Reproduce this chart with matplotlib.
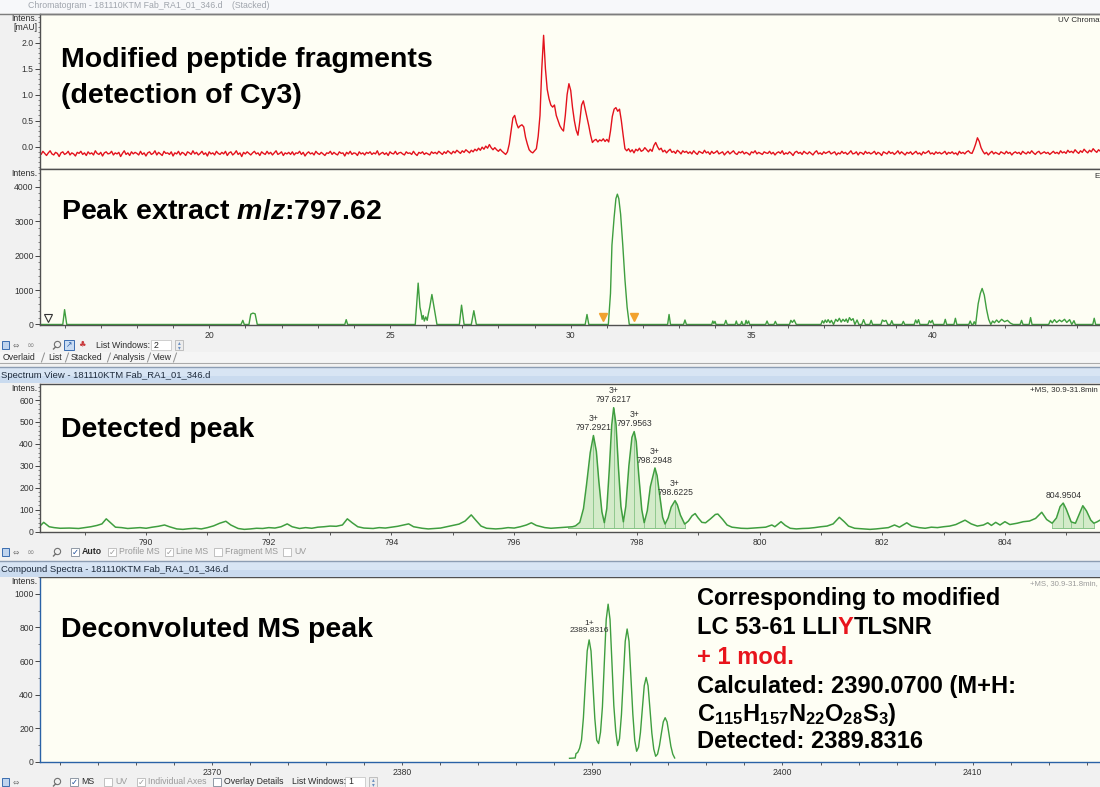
"""
LC-MS summary for the Cy3-modified LC 53-61 peptide:
UV trace, extracted ion chromatogram, isotope cluster and deconvoluted mass,
laid out as four stacked viewer panels.
"""

import numpy as np
import matplotlib
matplotlib.use("Agg")
import matplotlib.pyplot as plt
from matplotlib.lines import Line2D
from matplotlib.patches import Rectangle
from matplotlib.ticker import FixedLocator, MultipleLocator, FormatStrFormatter


# ── canvas (pixels) ──
W, H = 1100, 787

# ── colours ──
COLOR_UV = "#E3121C"
COLOR_MS = "#3F9E3F"
COLOR_FILL = "#D3EBC9"
COLOR_SPLIT = "#86C386"
COLOR_PLOT_BG = "#FEFEF4"
COLOR_WINDOW = "#F1F1F1"
COLOR_TITLEBAR = "#CADBEF"
COLOR_FRAME = "#505050"
COLOR_ACTIVE = "#2A62A6"
COLOR_MARK = "#F2A22E"
COLOR_UI_TEXT = "#2B2B2B"
COLOR_UI_GREY = "#9A9A9A"

LABEL_FONT = "Liberation Sans"
UI_FONT = "Liberation Sans"

plt.rcParams["font.family"] = [UI_FONT, "DejaVu Sans"]
plt.rcParams["mathtext.fontset"] = "custom"
plt.rcParams["mathtext.rm"] = "Liberation Sans:bold"
plt.rcParams["mathtext.it"] = "Liberation Sans:italic:bold"
plt.rcParams["mathtext.bf"] = "Liberation Sans:bold"


# ── UV chromatogram (Cy3 channel), every 0.05 min from 15.30 min, in 0.01 mAU ──
UV_START_MIN = 15.30
UV_STEP_MIN = 0.05
UV_CENTI_MAU = [
    -11, -15, -9, -13, -17, -12, -8, -14, -16, -11, -13, -19, -12, -10, -15, -13, -9, -16, -12, -14,
    -18, -11, -13, -9, -15, -12, -17, -10, -14, -12, -16, -8, -13, -15, -11, -18, -12, -10, -14, -13,
    -9, -16, -12, -14, -11, -19, -13, -8, -15, -12, -17, -10, -14, -11, -13, -16, -9, -15, -12, -18,
    -12, -10, -15, -13, -8, -16, -11, -14, -17, -9, -13, -12, -15, -10, -18, -12, -14, -9, -16, -11,
    -13, -17, -10, -12, -15, -8, -14, -11, -16, -13, -9, -15, -12, -18, -10, -14, -12, -16, -9, -13,
    -15, -11, -14, -9, -17, -12, -10, -16, -13, -8, -15, -12, -19, -11, -14, -10, -13, -16, -12, -9,
    -14, -12, -17, -10, -13, -15, -9, -14, -11, -16, -12, -8, -15, -13, -10, -17, -12, -14, -11, -15,
    -10, -16, -12, -13, -9, -15, -11, -18, -13, -10, -14, -12, -16, -9, -13, -15, -11, -14, -17, -12,
    -13, -9, -15, -11, -14, -16, -10, -13, -12, -18, -11, -14, -9, -15, -12, -13, -17, -10, -14, -12,
    -16, -11, -13, -10, -15, -12, -14, -8, -16, -13, -11, -15, -12, -17, -10, -13, -14, -9, -15, -12,
    -11, -14, -16, -10, -13, -12, -15, -9, -14, -17, -11, -13, -10, -15, -12, -14, -16, -10, -13, -11,
    -14, -9, -12, -15, -10, -13, -8, -11, -14, -9, -12, -7, -10, -13, -8, -11, -6, -9, -12, -7,
    -10, -5, -8, -3, -7, -1, -5, 1, -3, 4, -2, -6, -2, -6, -9, -5, -9, -12, -15, -10,
    5, 30, 55, 60, 45, 36, 40, 42, 38, 18, 5, -6, -10, -12, -8, -4, 20, 60, 150, 214,
    150, 110, 92, 80, 76, 80, 60, 50, 40, 34, 30, 60, 100, 121, 108, 75, 50, 32, 22, 48,
    80, 88, 72, 55, 40, 22, 8, 12, 14, 9, 13, 11, 15, 10, 14, 9, 30, 58, 72, 75,
    68, 72, 50, 22, -4, -8, -4, -10, -6, -12, -5, -8, -3, -9, -7, -2, -6, -10, -5, -9,
    2, 8, 0, -6, -3, -10, -7, -12, -8, -5, -11, -9, -13, -7, -10, -14, -8, -11, -9, -13,
    -10, -14, -8, -12, -15, -9, -11, -13, -7, -12, -10, -15, -9, -13, -11, -8, -14, -12, -10, -16,
    -12, -9, -14, -11, -8, -13, -15, -10, -12, -9, -14, -11, -13, -16, -10, -12, -8, -14, -11, -13,
    -15, -10, -12, -13, -9, -14, -11, -16, -12, -10, -13, -8, -15, -12, -14, -10, -13, -17, -11, -9,
    -13, -11, -15, -9, -12, -14, -10, -13, -16, -11, -8, -14, -12, -15, -10, -13, -11, -9, -14, -12,
    -10, -16, -12, -14, -9, -13, -11, -15, -12, -8, -14, -13, -10, -16, -11, -12, -15, -9, -13, -11,
    -14, -12, -9, -15, -11, -13, -17, -10, -12, -14, -9, -13, -11, -15, -12, -8, -14, -10, -13, -16,
    -11, -13, -10, -15, -12, -9, -14, -12, -16, -10, -13, -11, -8, -14, -12, -15, -10, -13, -11, -14,
    -12, -9, -15, -11, -13, -10, -14, -12, -16, -9, -13, -11, -14, -10, -8, -12, -13, -5, 5, 17,
    10, -2, -9, -14, -11, -16, -12, -9, -14, -11, -13, -15, -10, -12, -14, -9, -13, -11, -16, -12,
    -10, -13, -11, -15, -9, -12, -14, -10, -13, -8, -12, -15, -11, -9, -14, -12, -10, -13, -11, -15,
    -12, -9, -13, -11, -14, -8, -12, -10, -13, -7, -11, -9, -12, -6, -10, -13, -8, -11, -5, -9,
    -12, -7, -10, -4, -8, -11, -6, -9, -5, -8,
]

# ── EIC m/z 797.62: (retention time [min], intensity) ──
EIC_POINTS = [
    (15.30, 0), (15.95, 0), (16.00, 430), (16.06, 0),
    (20.88, 0), (20.93, 120), (20.97, 0), (21.10, 0), (21.15, 300), (21.21, 330),
    (21.27, 310), (21.33, 0),
    (23.75, 0), (23.79, 140), (23.83, 0),
    (25.70, 0), (25.78, 1200), (25.83, 500), (25.86, 350), (25.89, 150), (25.92, 260),
    (25.95, 100), (25.99, 220), (26.03, 120), (26.06, 300), (26.10, 500), (26.16, 870),
    (26.22, 500), (26.30, 0),
    (26.92, 0), (26.98, 560), (27.05, 0), (27.25, 0), (27.32, 400), (27.39, 0),
    (30.40, 0), (30.45, 290), (30.50, 0),
    (31.04, 0), (31.10, 900), (31.14, 2300), (31.20, 3100), (31.25, 3650), (31.29, 3780),
    (31.33, 3650), (31.38, 3200), (31.44, 2300), (31.50, 1300), (31.56, 500), (31.62, 0),
    (32.68, 0), (32.72, 290), (32.76, 0),
    (33.12, 0), (33.16, 130), (33.20, 0),
    (33.90, 0), (33.93, 100), (33.96, 30), (33.99, 90), (34.02, 0),
    (34.25, 0), (34.29, 120), (34.33, 0),
    (34.55, 0), (34.58, 100), (34.61, 0), (34.70, 0), (34.73, 90), (34.76, 0),
    (34.82, 0), (34.85, 120), (34.88, 20), (34.92, 100), (34.95, 0),
    (35.39, 0), (35.43, 100), (35.47, 0),
    (35.62, 0), (35.66, 90), (35.70, 0),
    (36.05, 0), (36.09, 120), (36.13, 60), (36.18, 130), (36.24, 0),
    (36.92, 0), (36.96, 110), (37.00, 40), (37.04, 130), (37.08, 60), (37.12, 140),
    (37.17, 50), (37.21, 120), (37.27, 0), (37.33, 150), (37.38, 90), (37.43, 180),
    (37.48, 70), (37.53, 150), (37.58, 90), (37.62, 160), (37.66, 60), (37.71, 200),
    (37.76, 120), (37.81, 170), (37.86, 0), (37.92, 130), (37.97, 0), (38.05, 0),
    (38.10, 140), (38.15, 0), (38.27, 0), (38.31, 120), (38.35, 0),
    (38.58, 0), (38.62, 130), (38.67, 90), (38.72, 120), (38.77, 0),
    (38.84, 0), (38.88, 110), (38.92, 0),
    (39.16, 0), (39.20, 90), (39.24, 0),
    (39.50, 0), (39.54, 130), (39.58, 40), (39.62, 140), (39.66, 0),
    (39.88, 0), (39.92, 110), (39.96, 50), (40.00, 120), (40.04, 0),
    (40.32, 0), (40.36, 150), (40.40, 0),
    (40.60, 0), (40.64, 180), (40.68, 0),
    (41.01, 0), (41.05, 100), (41.09, 0), (41.13, 0), (41.16, 80), (41.20, 0),
    (41.27, 600), (41.33, 900), (41.38, 1045), (41.44, 850), (41.50, 450), (41.56, 150),
    (41.62, 0), (41.67, 100), (41.72, 50), (41.78, 130), (41.84, 60), (41.92, 150),
    (42.00, 80), (42.08, 120), (42.16, 40), (42.24, 0),
    (42.43, 0), (42.47, 120), (42.51, 0),
    (42.68, 0), (42.72, 200), (42.76, 0),
    (43.22, 0), (43.27, 120), (43.32, 50), (43.38, 140), (43.44, 60), (43.52, 130),
    (43.58, 80), (43.66, 150), (43.72, 60), (43.80, 140), (43.86, 0), (43.92, 110),
    (43.96, 0),
    (44.44, 0), (44.48, 180), (44.52, 0), (44.70, 0),
]
EIC_WINDOW_MIN = [30.9, 31.75]      # averaged spectrum range
EIC_WINDOW_MARK = 210
EIC_START_MARK = (15.55, 190)

# ── averaged MS spectrum 30.9-31.8 min: (m/z, intensity) ──
MS_POINTS = [
    (788.27, 25), (788.33, 42), (788.42, 22), (788.50, 18), (788.60, 15), (788.75, 16),
    (788.90, 14), (789.00, 18), (789.10, 22), (789.20, 28), (789.28, 35), (789.35, 58),
    (789.42, 40), (789.50, 20), (789.60, 18), (789.70, 14), (789.80, 16), (789.90, 18),
    (790.00, 15), (790.10, 20), (790.20, 24), (790.30, 30), (790.38, 22), (790.50, 12),
    (790.60, 10), (790.70, 13), (790.80, 15), (790.90, 12), (791.00, 18), (791.10, 26),
    (791.20, 38), (791.30, 47), (791.38, 30), (791.50, 14), (791.60, 10), (791.70, 12),
    (791.80, 15), (791.90, 14), (792.00, 18), (792.10, 16), (792.20, 22), (792.30, 35),
    (792.38, 22), (792.50, 14), (792.60, 18), (792.70, 15), (792.80, 20), (792.90, 22),
    (793.00, 25), (793.10, 24), (793.20, 30), (793.28, 58), (793.36, 40), (793.45, 22),
    (793.55, 16), (793.70, 14), (793.80, 18), (793.90, 16), (794.00, 20), (794.10, 24),
    (794.20, 30), (794.28, 35), (794.36, 22), (794.50, 15), (794.60, 12), (794.70, 14),
    (794.80, 16), (794.90, 22), (795.00, 28), (795.10, 34), (795.20, 48), (795.30, 76),
    (795.38, 50), (795.46, 25), (795.55, 15), (795.70, 12), (795.80, 14), (795.90, 18),
    (796.00, 16), (796.10, 22), (796.20, 30), (796.28, 40), (796.36, 28), (796.50, 18),
    (796.60, 15), (796.70, 17), (796.80, 19), (796.87, 20), (796.95, 22), (797.00, 26),
    (797.07, 42), (797.13, 105), (797.18, 215), (797.24, 360), (797.2921, 438),
    (797.34, 365), (797.38, 230), (797.43, 90), (797.47, 40), (797.51, 105), (797.55, 280),
    (797.59, 485), (797.6217, 565), (797.66, 490), (797.70, 290), (797.74, 115),
    (797.78, 44), (797.82, 115), (797.87, 300), (797.92, 430), (797.9563, 456),
    (797.99, 410), (798.03, 260), (798.08, 100), (798.12, 40), (798.17, 95), (798.22, 205),
    (798.2948, 290), (798.33, 255), (798.38, 150), (798.42, 65), (798.46, 34),
    (798.51, 62), (798.56, 112), (798.6225, 141), (798.66, 122), (798.71, 75),
    (798.78, 34), (798.84, 48), (798.90, 72), (798.95, 82), (799.00, 62), (799.06, 42),
    (799.12, 40), (799.20, 58), (799.28, 78), (799.32, 80), (799.40, 55), (799.47, 30),
    (799.55, 20), (799.70, 15), (799.80, 14), (799.90, 16), (800.00, 18), (800.10, 20),
    (800.20, 30), (800.25, 22), (800.35, 45), (800.42, 28), (800.50, 15), (800.60, 12),
    (800.70, 14), (800.80, 15), (800.90, 18), (801.00, 22), (801.10, 25), (801.20, 35),
    (801.30, 65), (801.38, 45), (801.45, 25), (801.55, 15), (801.70, 12), (801.80, 10),
    (801.90, 12), (802.00, 15), (802.10, 18), (802.20, 30), (802.28, 20), (802.40, 40),
    (802.48, 25), (802.60, 18), (802.70, 15), (802.80, 20), (802.90, 18), (803.00, 22),
    (803.10, 25), (803.20, 32), (803.35, 52), (803.45, 35), (803.55, 25), (803.65, 30),
    (803.72, 40), (803.78, 28), (803.85, 42), (803.92, 30), (804.00, 45), (804.08, 32),
    (804.20, 38), (804.30, 45), (804.40, 48), (804.50, 60), (804.60, 88), (804.68, 55),
    (804.77, 38), (804.84, 62), (804.90, 114), (804.9504, 130), (805.00, 102),
    (805.08, 44), (805.15, 38), (805.21, 78), (805.27, 118), (805.33, 94), (805.40, 52),
    (805.45, 38), (805.50, 44), (805.55, 52),
]
PEAK_MZ = [797.2921, 797.6217, 797.9563, 798.2948, 798.6225, 804.9504]
PEAK_INTENS = [438, 565, 456, 290, 141, 130]
PEAK_CHARGE = ["3+", "3+", "3+", "3+", "3+", ""]
MS_FILL_RANGES = [(796.87, 798.78), (804.77, 805.45)]
MS_SPLITS = [796.87, 797.47, 797.78, 798.12, 798.46, 798.78, 804.77, 805.08, 805.27, 805.45]
MS_FILL_BASE = 16

# ── deconvoluted compound spectrum: (mass, intensity) ──
DECONV_POINTS = [
    (2388.80, 20), (2389.10, 22), (2389.14, 48), (2389.23, 55), (2389.33, 80),
    (2389.43, 128), (2389.53, 261), (2389.63, 463), (2389.73, 660), (2389.8316, 726),
    (2389.93, 660), (2390.03, 460), (2390.13, 258), (2390.23, 128), (2390.33, 108),
    (2390.43, 175), (2390.53, 326), (2390.63, 590), (2390.73, 848), (2390.83, 939),
    (2390.93, 848), (2391.03, 592), (2391.13, 334), (2391.23, 182), (2391.33, 96),
    (2391.43, 137), (2391.53, 279), (2391.63, 500), (2391.73, 718), (2391.83, 791),
    (2391.93, 718), (2392.03, 501), (2392.13, 283), (2392.23, 127), (2392.33, 62),
    (2392.43, 86), (2392.53, 174), (2392.63, 315), (2392.73, 453), (2392.83, 502),
    (2392.93, 453), (2393.03, 315), (2393.13, 170), (2393.23, 75), (2393.33, 32),
    (2393.43, 45), (2393.53, 95), (2393.63, 168), (2393.73, 237), (2393.83, 262),
    (2393.93, 237), (2394.03, 166), (2394.13, 92), (2394.23, 45), (2394.33, 22),
]
DECONV_MZ = 2389.8316
DECONV_INTENS = 726
DECONV_CHARGE = "1+"


def fig_text(fig, x, y, s, **kw):
    """Text placed in canvas pixels (origin top-left)."""
    kw.setdefault("va", "center")
    return fig.text(x / W, 1 - y / H, s, **kw)


def fig_rect(fig, x0, y0, x1, y1, **kw):
    fig.add_artist(Rectangle((x0 / W, 1 - y1 / H), (x1 - x0) / W, (y1 - y0) / H,
                             transform=fig.transFigure, **kw))


def fig_line(fig, xs, ys, **kw):
    fig.add_artist(Line2D([x / W for x in xs], [1 - y / H for y in ys],
                          transform=fig.transFigure, **kw))


def text_runs(fig, x, y, runs, **kw):
    """Draw consecutive pieces of one line, each in its own colour."""
    renderer = fig.canvas.get_renderer()
    for s, color in runs:
        t = fig_text(fig, x, y, s, color=color, **kw)
        x = t.get_window_extent(renderer).x1


def add_panel(fig, box, xlim, ylim, yticks, yminor, yfmt, frame=COLOR_FRAME):
    x0, y0, x1, y1 = box
    ax = fig.add_axes([x0 / W, 1 - y1 / H, (x1 - x0) / W, (y1 - y0) / H])
    ax.set_facecolor(COLOR_PLOT_BG)
    ax.set_xlim(*xlim)
    ax.set_ylim(*ylim)
    for side in ("top", "left", "bottom"):
        ax.spines[side].set_color(frame)
        ax.spines[side].set_linewidth(1.0)
    ax.spines["right"].set_visible(False)
    ax.yaxis.set_major_locator(FixedLocator(yticks))
    ax.yaxis.set_minor_locator(MultipleLocator(yminor))
    ax.yaxis.set_major_formatter(FormatStrFormatter(yfmt))
    ax.tick_params(axis="y", which="major", length=3.5, width=0.7, pad=1,
                   labelsize=6.2, colors="#444444", labelcolor="#333333")
    ax.tick_params(axis="y", which="minor", length=1.8, width=0.5, colors="#555555")
    ax.tick_params(axis="x", which="both", bottom=False, labelbottom=False)
    return ax


def set_x_axis(ax, major, minor):
    ax.xaxis.set_major_locator(MultipleLocator(major))
    ax.xaxis.set_minor_locator(MultipleLocator(minor))
    ax.xaxis.set_major_formatter(FormatStrFormatter("%d"))
    ax.tick_params(axis="x", which="both", bottom=True, labelbottom=True,
                   length=2.5, width=0.7, pad=2, labelsize=6.2,
                   colors="#555555", labelcolor="#333333")


def big_label(fig, x, y, s, **kw):
    fig_text(fig, x, y, s, fontsize=20.5, fontweight="bold", family=LABEL_FONT,
             color="black", **kw)


def ui_text(fig, x, y, s, **kw):
    kw.setdefault("fontsize", 6.3)
    kw.setdefault("color", COLOR_UI_TEXT)
    return fig_text(fig, x, y, s, **kw)


# ── window chrome ──
def title_bar(fig, y0, y1, title):
    fig_line(fig, [0, W], [y0 - 1, y0 - 1], color="#8C9DB3", lw=1.0)
    fig_rect(fig, 0, y0, W, y1, facecolor=COLOR_TITLEBAR, edgecolor="none")
    fig_rect(fig, 0, y0, W, (y0 + y1) / 2, facecolor="#D8E5F4", edgecolor="none")
    ui_text(fig, 1, (y0 + y1) / 2 + 0.5, title, fontsize=6.8, color="#1E2B3C")


def checkbox(fig, x, y, label, checked, enabled=True, bold=False):
    edge = "#7F8A98" if enabled else "#B8B8B8"
    fig_rect(fig, x, y - 4, x + 8, y + 4, facecolor="white", edgecolor=edge, lw=0.6)
    if checked:
        fig_text(fig, x + 4, y, "\u2713", ha="center", fontsize=6, family="DejaVu Sans",
                 color="#1E4E9A" if enabled else COLOR_UI_GREY)
    ui_text(fig, x + 11, y, label, color=COLOR_UI_TEXT if enabled else COLOR_UI_GREY,
            fontweight="bold" if bold else "normal")


def nav_icons(fig, y, zoom_x):
    fig_rect(fig, 2, y - 4, 9, y + 4, facecolor="#BFD4EE", edgecolor="#3A6DB0", lw=0.7)
    fig_text(fig, 16, y, "\u21d4", ha="center", fontsize=5.5, family="DejaVu Sans",
             color="#7A7A7A")
    fig_text(fig, 31, y, "\u221e", ha="center", fontsize=6.5, family="DejaVu Sans",
             color="#8A8A8A")
    fig.add_artist(Line2D([zoom_x / W], [1 - (y - 1) / H], marker="o", ms=4.5,
                          mfc="none", mec="#707070", mew=0.8, transform=fig.transFigure))
    fig_line(fig, [zoom_x - 3.5, zoom_x - 1.5], [y + 4, y + 2], color="#707070", lw=1.0)


def spinner(fig, x, y, value):
    fig_rect(fig, x, y - 5, x + 20, y + 5, facecolor="white", edgecolor="#C8C8C8", lw=0.6)
    ui_text(fig, x + 3, y, value)
    fig_rect(fig, x + 24, y - 5, x + 32, y + 5, facecolor="#EDEDED", edgecolor="#B8B8B8", lw=0.6)
    fig_text(fig, x + 28, y - 2.3, "\u25b4", ha="center", fontsize=4, family="DejaVu Sans",
             color="#6A8EC0")
    fig_text(fig, x + 28, y + 2.5, "\u25be", ha="center", fontsize=4, family="DejaVu Sans",
             color="#6A8EC0")


def draw_chrome(fig):
    # top chromatogram window title (scrolled partly out of view)
    fig_rect(fig, 0, 0, W, 13, facecolor="#F7F8FA", edgecolor="none")
    ui_text(fig, 28, 6, "Chromatogram - 181110KTM Fab_RA1_01_346.d    (Stacked)",
            fontsize=6.3, color="#A0A5AD")
    fig_line(fig, [0, W], [13.5, 13.5], color="#7D7D7D", lw=1.0)

    # chromatogram toolbar and tabs
    nav_icons(fig, 345, 57)
    fig_rect(fig, 64, 340, 74, 350, facecolor="#C9DCF3", edgecolor="#3A6DB0", lw=0.7)
    fig_text(fig, 69, 345, "\u2197", ha="center", fontsize=5.5, family="DejaVu Sans",
             color="#2A5EA8")
    fig_text(fig, 82, 344, "\u2663", ha="center", fontsize=6, family="DejaVu Sans",
             color="#C9393C")
    ui_text(fig, 96, 345, "List Windows:")
    spinner(fig, 151, 345, "2")
    fig_rect(fig, 0, 352, W, 362, facecolor="#F5F5F5", edgecolor="none")
    fig_line(fig, [0, W], [362.5, 362.5], color="#A8A8A8", lw=0.7)
    tabs = [(3, "Overlaid"), (48, "List"), (71, "Stacked"), (113, "Analysis"), (153, "View")]
    for x, name in tabs:
        ui_text(fig, x, 357.5, name)
    for x in (43, 67, 109, 149, 175):
        fig_line(fig, [x - 1.5, x + 1.5], [362, 353], color="#8F8F8F", lw=0.7)

    # spectrum window
    title_bar(fig, 368, 383, "Spectrum View - 181110KTM Fab_RA1_01_346.d")
    nav_icons(fig, 552, 57)
    checkbox(fig, 71, 552, "Auto", True, bold=True)
    checkbox(fig, 108, 552, "Profile MS", True, enabled=False)
    checkbox(fig, 165, 552, "Line MS", True, enabled=False)
    checkbox(fig, 214, 552, "Fragment MS", False, enabled=False)
    checkbox(fig, 283, 552, "UV", False, enabled=False)

    # compound spectra window
    title_bar(fig, 562, 577, "Compound Spectra - 181110KTM Fab_RA1_01_346.d")
    fig_rect(fig, 2, 778, 9, 786, facecolor="#BFD4EE", edgecolor="#3A6DB0", lw=0.7)
    fig_text(fig, 16, 782, "\u21d4", ha="center", fontsize=5.5, family="DejaVu Sans",
             color="#7A7A7A")
    fig.add_artist(Line2D([57 / W], [1 - 781 / H], marker="o", ms=4.5, mfc="none",
                          mec="#707070", mew=0.8, transform=fig.transFigure))
    fig_line(fig, [53.5, 55.5], [786, 784], color="#707070", lw=1.0)
    checkbox(fig, 70, 782, "MS", True)
    checkbox(fig, 104, 782, "UV", False, enabled=False)
    checkbox(fig, 137, 782, "Individual Axes", True, enabled=False)
    checkbox(fig, 213, 782, "Overlay Details", False)
    ui_text(fig, 292, 782, "List Windows:")
    spinner(fig, 345, 782, "1")


# ── panels ──
def panel_uv(fig):
    ax = add_panel(fig, (40, 14, W, 169), (15.32, 44.64), (-0.43, 2.55),
                   [0.0, 0.5, 1.0, 1.5, 2.0], 0.1, "%.1f")
    t = np.round(UV_START_MIN + UV_STEP_MIN * np.arange(len(UV_CENTI_MAU)), 2)
    ax.plot(t, np.array(UV_CENTI_MAU) / 100.0, color=COLOR_UV, lw=1.0)
    ui_text(fig, 37, 18.5, "Intens.", ha="right", fontsize=6.2)
    ui_text(fig, 37, 27, "[mAU]", ha="right", fontsize=6.2)
    ui_text(fig, 1058, 20, "UV Chromat", fontsize=5.8)
    big_label(fig, 61, 60, "Modified peptide fragments")
    big_label(fig, 61, 96, "(detection of Cy3)")


def panel_eic(fig):
    ax = add_panel(fig, (40, 169, W, 325), (15.32, 44.64), (-15, 4510),
                   [0, 1000, 2000, 3000, 4000], 200, "%d")
    set_x_axis(ax, 5, 1)
    t, inten = map(np.array, zip(*EIC_POINTS))
    ax.plot(t, inten, color=COLOR_MS, lw=1.0)
    ax.plot(EIC_WINDOW_MIN, [EIC_WINDOW_MARK] * 2, linestyle="none", marker="v",
            ms=5.5, color=COLOR_MARK)
    ax.plot(*EIC_START_MARK, marker="v", ms=6, mfc="none", mec="#333333", mew=0.8)
    ui_text(fig, 37, 174, "Intens.", ha="right", fontsize=6.2)
    ui_text(fig, 1094, 177, "E", fontsize=5.8)
    big_label(fig, 61, 212, "Peak extract $m/z$:797.62")


def panel_ms(fig):
    ax = add_panel(fig, (40, 384, W, 532), (788.27, 805.55), (-2, 673),
                   [0, 100, 200, 300, 400, 500, 600], 20, "%d")
    set_x_axis(ax, 2, 1)
    mz, inten = map(np.array, zip(*MS_POINTS))
    for lo, hi in MS_FILL_RANGES:
        m = (mz >= lo) & (mz <= hi)
        ax.fill_between(mz[m], inten[m], MS_FILL_BASE, color=COLOR_FILL, lw=0)
        ax.plot([lo, hi], [MS_FILL_BASE] * 2, color=COLOR_SPLIT, lw=0.7)
    split_top = np.interp(MS_SPLITS + PEAK_MZ, mz, inten)
    ax.vlines(MS_SPLITS + PEAK_MZ, MS_FILL_BASE, split_top, color=COLOR_SPLIT, lw=0.6)
    ax.plot(mz, inten, color=COLOR_MS, lw=1.1)
    for x, y, z in zip(PEAK_MZ, PEAK_INTENS, PEAK_CHARGE):
        label = f"{z}\n{x:.4f}" if z else f"{x:.4f}"
        ax.annotate(label, (x, y), xytext=(0, 2.5), textcoords="offset points",
                    ha="center", va="bottom", fontsize=6.2, color="#333333",
                    linespacing=1.0)
    ui_text(fig, 37, 389, "Intens.", ha="right", fontsize=6.2)
    ui_text(fig, 1030, 390, "+MS, 30.9-31.8min", fontsize=5.8)
    big_label(fig, 61, 430, "Detected peak")


def panel_deconv(fig):
    ax = add_panel(fig, (40, 577, W, 762), (2360.95, 2416.7), (-2, 1101),
                   [0, 200, 400, 600, 800, 1000], 100, "%d", frame=COLOR_ACTIVE)
    ax.spines["top"].set_color(COLOR_FRAME)
    set_x_axis(ax, 10, 2)
    m, inten = map(np.array, zip(*DECONV_POINTS))
    ax.plot(m, inten, color=COLOR_MS, lw=1.0)
    ax.annotate(f"{DECONV_CHARGE}\n{DECONV_MZ:.4f}", (DECONV_MZ, DECONV_INTENS),
                xytext=(0, 4), textcoords="offset points", ha="center", va="bottom",
                fontsize=6.0, color="#333333", linespacing=1.0)
    ui_text(fig, 37, 581, "Intens.", ha="right", fontsize=6.2)
    ui_text(fig, 1030, 584, "+MS, 30.9-31.8min,", fontsize=5.6, color="#9A9A9A")
    big_label(fig, 61, 630, "Deconvoluted MS peak")

    kw = dict(fontsize=17, fontweight="bold", family=LABEL_FONT)
    fig_text(fig, 697, 598, "Corresponding to modified", color="black", **kw)
    text_runs(fig, 697, 627, [("LC 53-61 LLI", "black"), ("Y", "#E8141C"),
                              ("TLSNR", "black")], **kw)
    fig_text(fig, 697, 657, "+ 1 mod.", color="#E8141C", **kw)
    fig_text(fig, 697, 686, "Calculated: 2390.0700 (M+H:", color="black", **kw)
    fig_text(fig, 697, 715, r"C$_{115}$H$_{157}$N$_{22}$O$_{28}$S$_{3}$)",
             color="black", **kw)
    fig_text(fig, 697, 742, "Detected: 2389.8316", color="black", **kw)


def main():
    fig = plt.figure(figsize=(W / 100, H / 100), dpi=100, facecolor=COLOR_WINDOW)
    draw_chrome(fig)
    panel_uv(fig)
    panel_eic(fig)
    panel_ms(fig)
    panel_deconv(fig)
    fig.savefig("out.png", dpi=100, facecolor=fig.get_facecolor())
    plt.close(fig)


if __name__ == "__main__":
    main()
